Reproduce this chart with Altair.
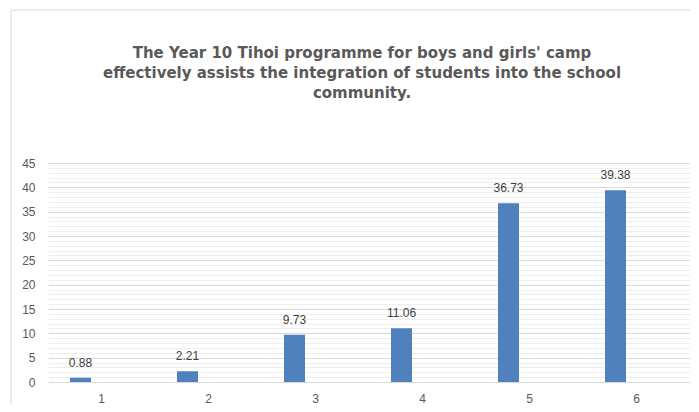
import altair as alt
import pandas as pd

categories = ["1", "2", "3", "4", "5", "6"]
values = [0.88, 2.21, 9.73, 11.06, 36.73, 39.38]
title_lines = [
    "The Year 10 Tihoi programme for boys and girls' camp",
    "effectively assists the integration of students into the school",
    "community.",
]
y_ticks = list(range(0, 46))

df = pd.DataFrame({"category": categories, "value": values})

FONT = "Liberation Sans"

x_enc = alt.X(
    "category:N",
    sort=categories,
    scale=alt.Scale(paddingInner=0, paddingOuter=0),
    axis=alt.Axis(
        title=None, labelAngle=0, domain=False, ticks=False, tickSize=0,
        labelPadding=11, labelFontSize=12, labelColor="#595959", labelFont=FONT,
        grid=False,
    ),
)
y_enc = alt.Y(
    "value:Q",
    scale=alt.Scale(domain=[0, 45], nice=False),
    axis=alt.Axis(
        title=None, values=y_ticks, domain=False, ticks=False, tickSize=0,
        labelExpr="datum.value % 5 === 0 ? datum.label : ''",
        labelPadding=13, labelFontSize=12, labelColor="#595959", labelFont=FONT,
        grid=True,
        gridColor={"condition": {"test": "datum.value % 5 === 0", "value": "#d9d9d9"}, "value": "#eeeeee"},
        gridWidth=1,
    ),
)

base = alt.Chart(df)
bars = base.mark_bar(width=21, xOffset=-21, color="#4f81bd").encode(x=x_enc, y=y_enc)
labels = base.mark_text(
    xOffset=-21, dy=-8, baseline="bottom", fontSize=12, color="#404040", font=FONT
).encode(x=x_enc, y=y_enc, text=alt.Text("value:Q", format=".2f"))

one = pd.DataFrame({"a": [0]})
border = alt.Chart(one).mark_rect(
    fillOpacity=0, stroke="#d9d9d9", strokeWidth=1
).encode(x=alt.value(-37), x2=alt.value(720), y=alt.value(-153), y2=alt.value(420))

title = alt.Chart(one).mark_text(
    text=title_lines, fontSize=15, fontWeight="bold", color="#595959", font="DejaVu Sans",
    align="center", baseline="middle", lineHeight=20,
).encode(x=alt.value(314), y=alt.value(-110))

chart = alt.layer(border, bars, labels, title).properties(
    width=642,
    height=219,
    autosize=alt.AutoSizeParams(type="none"),
    padding={"left": 40, "top": 155, "right": 0, "bottom": 22},
).configure_view(stroke=None)

chart.save("out.html", embed_options={"renderer": "svg", "actions": False})
